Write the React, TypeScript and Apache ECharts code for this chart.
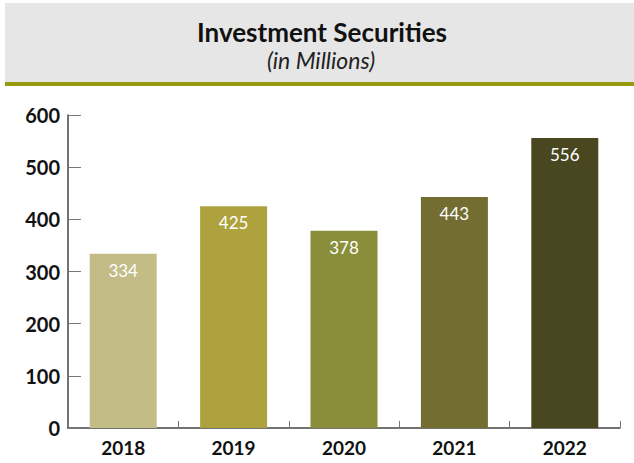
import React, { useEffect, useRef } from "react";
import * as echarts from "echarts";

const categories = ["2018", "2019", "2020", "2021", "2022"];
const values = [334, 425, 378, 443, 556];
const barColors = ["#c3bc87", "#ada23d", "#8a8e3a", "#736d31", "#484720"];
const yTicks = [0, 100, 200, 300, 400, 500, 600];

export default function App() {
  const ref = useRef<HTMLDivElement>(null);
  useEffect(() => {
    if (!ref.current) return;
    const chart = echarts.init(ref.current, undefined, { renderer: "svg" });
    chart.setOption({
      animation: false,
      textStyle: { fontFamily: "Lato" },
      graphic: [
        { type: "rect", shape: { x: 5, y: 3, width: 629, height: 79 }, style: { fill: "#e6e6e6" }, z: -10 },
        { type: "rect", shape: { x: 5, y: 82, width: 629, height: 4 }, style: { fill: "#989a10" }, z: -9 },
        {
          type: "text",
          x: 322,
          y: 32,
          style: { text: "Investment Securities", font: "bold 26px Lato", fill: "#111", align: "center", verticalAlign: "middle" },
        },
        {
          type: "text",
          x: 321,
          y: 60,
          style: { text: "(in Millions)", font: "italic 23px Lato", fill: "#222", align: "center", verticalAlign: "middle" },
        },
      ],
      grid: { left: 68, right: 14, top: 115, bottom: 35, containLabel: false },
      xAxis: {
        type: "category",
        data: categories,
        axisLine: { show: true, lineStyle: { color: "#444", width: 1.5 } },
        axisTick: { show: true, inside: true, length: 7, lineStyle: { color: "#777" } },
        axisLabel: { color: "#111", fontWeight: "bold", fontSize: 19, fontFamily: "Lato", margin: 10 },
      },
      yAxis: {
        type: "value",
        min: yTicks[0],
        max: yTicks[yTicks.length - 1],
        interval: 100,
        splitLine: { show: false },
        axisLine: { show: true, lineStyle: { color: "#444", width: 1.5 } },
        axisTick: { show: true, inside: true, length: 13, lineStyle: { color: "#777" } },
        axisLabel: { color: "#111", fontWeight: "bold", fontSize: 20, fontFamily: "Lato", margin: 8 },
      },
      series: [
        {
          type: "bar",
          data: values.map((v, i) => ({ value: v, itemStyle: { color: barColors[i] } })),
          barWidth: 67,
          label: {
            show: true,
            position: "insideTop",
            distance: 8,
            color: "#fff",
            fontSize: 17,
            fontFamily: "Lato",
          },
        },
      ],
    });
    return () => chart.dispose();
  }, []);
  return <div ref={ref} style={{ width: 634, height: 463, position: "absolute", left: 0, top: 0 }} />;
}
